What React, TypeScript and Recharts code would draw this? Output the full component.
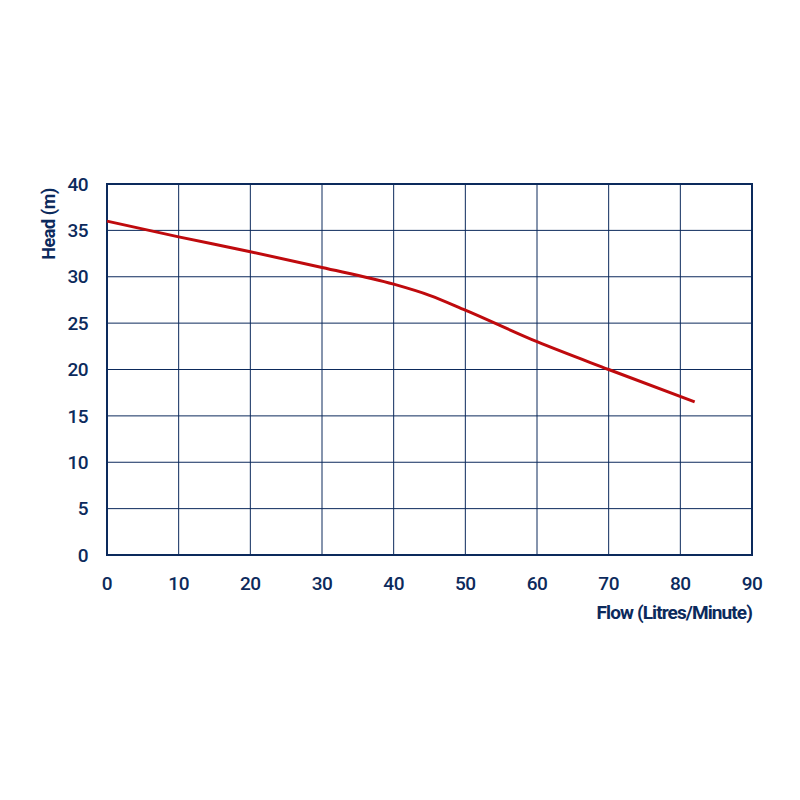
import { LineChart, Line, XAxis, YAxis, CartesianGrid, ReferenceArea, Label } from 'recharts';

const flow = [0, 10, 20, 30, 40, 45, 50, 60, 70, 82];
const head = [36, 34.3, 32.7, 31.0, 29.2, 28.0, 26.4, 23.0, 20.0, 16.5];
const xTicks = [0, 10, 20, 30, 40, 50, 60, 70, 80, 90];
const yTicks = [0, 5, 10, 15, 20, 25, 30, 35, 40];

const navy = '#0c2a5c';
const red = '#bf0a0d';
const font = 'Roboto, "Noto Sans", sans-serif';

const data = flow.map((f, i) => ({ flow: f, head: head[i] }));

const App = () => {
  return (
    <div style={{ position: 'absolute', left: 0, top: 0, width: 800, height: 800, background: '#fff' }}>
      <LineChart
        width={800}
        height={800}
        data={data}
        margin={{ top: 184, right: 48, left: 47, bottom: 181 }}
      >
        <CartesianGrid stroke={navy} strokeWidth={1} horizontalValues={yTicks} verticalValues={xTicks} />
        <XAxis
          dataKey="flow"
          type="number"
          domain={[0, 90]}
          ticks={xTicks}
          interval={0}
          height={64}
          axisLine={false}
          tickLine={false}
          tickSize={0}
          tickMargin={22}
          tick={{ fill: navy, fontSize: 19, fontFamily: font, fontWeight: 500, letterSpacing: -0.5 }}
        >
          <Label
            value="Flow (Litres/Minute)"
            position="insideBottomRight"
            offset={0}
            style={{ fill: navy, fontSize: 19, fontFamily: font, fontWeight: 700, letterSpacing: -0.9 }}
          />
        </XAxis>
        <YAxis
          type="number"
          domain={[0, 40]}
          ticks={yTicks}
          interval={0}
          width={60}
          axisLine={false}
          tickLine={false}
          tickSize={0}
          tickMargin={19}
          tick={{ fill: navy, fontSize: 19, fontFamily: font, fontWeight: 500, letterSpacing: -0.5 }}
        >
          <Label
            content={() => (
              <text
                x={48}
                y={224}
                transform="rotate(-90 48 224)"
                textAnchor="middle"
                dominantBaseline="central"
                fill={navy}
                fontSize={18}
                fontFamily={font}
                fontWeight={700}
                letterSpacing={-0.4}
              >
                Head (m)
              </text>
            )}
          />
        </YAxis>
        <ReferenceArea x1={0} x2={90} y1={0} y2={40} fill="none" stroke={navy} strokeWidth={2} ifOverflow="visible" />
        <Line
          type="monotone"
          dataKey="head"
          stroke={red}
          strokeWidth={3}
          dot={false}
          isAnimationActive={false}
        />
      </LineChart>
    </div>
  );
};

export default App;
